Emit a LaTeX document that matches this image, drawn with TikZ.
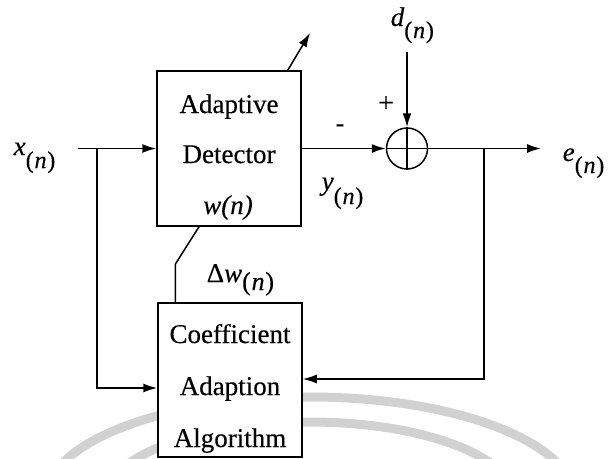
\documentclass[tikz,border=0pt]{standalone}
\usepackage{fontspec}
\setmainfont{Liberation Serif}[FakeBold=0.3]
\usetikzlibrary{arrows.meta}
\newcommand{\vsub}[4][13pt]{\textit{#3}\raisebox{-#1}{\fontsize{#2}{#2}\selectfont(\kern0.8pt\textit{#4}\kern0.8pt)}}
\begin{document}
\begin{tikzpicture}[x=1pt,y=-1pt,
  line width=1.5pt,
  blk/.style={draw, fill=white, minimum width=144pt, minimum height=155pt, inner sep=0pt},
  sumnode/.style={draw, circle, minimum size=41pt, inner sep=0pt},
  txt/.style={font=\fontsize{27}{30}\selectfont, inner sep=0pt},
  lbl/.style={font=\fontsize{27}{30}\selectfont, inner sep=0pt},
  arr/.style={-{Latex[length=14pt,width=9pt]}},
  wm/.style={draw=gray!36, line width=9pt}
]
\fill[white] (0,0) rectangle (610,458);
\useasboundingbox (0,0) rectangle (610,458);
% faint watermark
\begin{scope}
\clip (0,0) rectangle (610,458);
\draw[wm] (310,500) ellipse [x radius=265, y radius=103];
\draw[wm] (310,500) ellipse [x radius=205, y radius=78];
\end{scope}
% blocks
\node[blk] (det) at (229,148.5) {};
\node[blk, minimum height=154pt] (coef) at (230,380) {};
\node[txt, anchor=base] (t1) at (229,113) {Adaptive};
\node[txt, anchor=base] (t2) at (229,163) {Detector};
\node[txt, anchor=base] (t3) at (228,214) {\textit{w(n)}};
\node[txt, anchor=base] (t4) at (230,343) {Coefficient};
\node[txt, anchor=base] (t5) at (230,395) {Adaption};
\node[txt, anchor=base] (t6) at (230,447) {Algorithm};
% summing junction
\node[sumnode] (sum) at (407,148.5) {};
\draw (sum.north) -- (sum.south) (sum.west) -- (sum.east);
% labels
\node[lbl, anchor=base west] (xl) at (13,155) {\vsub{24}{x}{n}};
\node[lbl, anchor=base west] (dl) at (390,26) {\vsub[12pt]{24}{d}{n}};
\node[lbl, anchor=base west] (el) at (562,161) {\vsub[12pt]{24}{e}{n}};
\node[lbl, anchor=base west] (yl) at (321,190) {\vsub[14pt]{24}{y}{n}};
\node[lbl, anchor=base west] (dwl) at (206,282) {Δ\vsub[8pt]{26}{w}{n}};
\node[font=\fontsize{28}{28}\selectfont, inner sep=0pt] (plus) at (386,104) {+};
\node[font=\fontsize{26}{26}\selectfont, inner sep=0pt] (minus) at (340,128) {-};
% coordinates
\coordinate (xin) at (78,148.5);
\coordinate (b1) at (97,148.5);
\coordinate (b2) at (484,148.5);
\coordinate (eout) at (541,148.5);
\coordinate (dtop) at (407,52);
\coordinate (tip) at (310,33);
% connectors
\draw[arr] (xin) -- (det.west);
\draw[arr] (b1) |- ([yshift=-8pt]coef.west);
\draw[arr] (det.east) -- (sum.west);
\draw[arr] (sum.east) -- (eout);
\draw[arr] (b2) |- ([yshift=1pt]coef.east);
\draw[arr] (dtop) -- (sum.north);
\draw[arr] ([xshift=-14pt]det.north east) -- (tip);
\draw ([xshift=18pt]coef.north west) -- ++(0,-38) -- ([xshift=-30pt]det.south);
\end{tikzpicture}
\end{document}
